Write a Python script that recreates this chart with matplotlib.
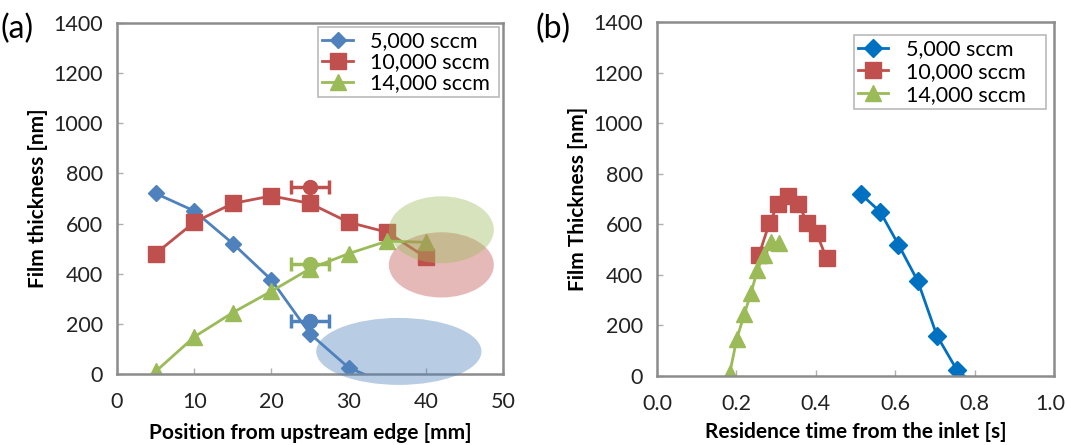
import numpy as np
import matplotlib
matplotlib.use("Agg")
import matplotlib.pyplot as plt
from matplotlib.patches import Ellipse
from matplotlib.transforms import ScaledTranslation

plt.rcParams["font.family"] = ["Lato", "DejaVu Sans"]

# (a) thickness vs position
pos = [5, 10, 15, 20, 25, 30, 35, 40]
th_5000 = [720, 650, 520, 375, 160, 25, -40]
th_10000 = [480, 605, 680, 710, 680, 605, 565, 465]
th_14000 = [10, 148, 245, 330, 420, 480, 530, 525]

# measured points with error bars (position 25 mm)
meas_x = [25, 25, 25]
meas_y = [210, 745, 440]
meas_xerr = [2.5, 2.5, 2.5]

# highlighted regions: centre x, centre y, width, height
ell_cx = [36.5, 42.0, 42.0]
ell_cy = [90, 435, 575]
ell_w = [21.4, 13.6, 13.6]
ell_h = [267, 260, 267]

# (b) thickness vs residence time
t_5000 = [0.513, 0.562, 0.608, 0.657, 0.705, 0.755, 0.804]
t_10000 = [0.257, 0.283, 0.305, 0.330, 0.356, 0.379, 0.402, 0.427]
t_14000 = [0.183, 0.201, 0.220, 0.237, 0.253, 0.269, 0.288, 0.306]

labels = ["5,000 sccm", "10,000 sccm", "14,000 sccm"]
blue_a = "#4F81BD"
blue_b = "#0070C0"
red = "#C0504D"
green = "#9BBB59"
spine_col = "#8c8c8c"

fig = plt.figure(figsize=(10.67, 4.45), dpi=100)
ax1 = fig.add_axes([0.1097, 0.1596, 0.3618, 0.789])
ax2 = fig.add_axes([0.6158, 0.155, 0.372, 0.7955])


def style(ax):
    for s in ax.spines.values():
        s.set_color(spine_col)
        s.set_linewidth(1.8)
    ax.tick_params(direction="in", length=4, color="#b0b0b0", width=1,
                   labelsize=15.5, labelcolor="#222222")
    ax.tick_params(axis="x", pad=13)
    ax.tick_params(axis="y", pad=10)
    ax.set_ylim(0, 1400)
    ax.set_yticks(range(0, 1401, 200))


def legend(ax, x0, top, w, spacing):
    leg = ax.legend(loc="upper left", bbox_to_anchor=(x0, top - 0.5, w, 0.5),
                    mode="expand", fontsize=15.5, fancybox=False,
                    edgecolor="#a8a8a8", handlelength=1.4, handletextpad=0.8,
                    borderpad=0.2, labelspacing=spacing, borderaxespad=0)
    leg.get_frame().set_linewidth(1.2)
    leg.set_zorder(10)
    return leg


# panel (a)
ax1.plot(pos[:len(th_5000)], th_5000, color=blue_a, marker="D", ms=8, lw=2, label=labels[0])
ax1.plot(pos, th_10000, color=red, marker="s", ms=11, lw=2, label=labels[1])
ax1.plot(pos, th_14000, color=green, marker="^", ms=11, lw=2, label=labels[2])
for x, y, e, c in zip(meas_x, meas_y, meas_xerr, [blue_a, red, green]):
    ax1.errorbar(x, y, xerr=e, fmt="o", color=c, ms=10, lw=2.5, capsize=5, capthick=2.5)
for cx, cy, w, h, c in zip(ell_cx, ell_cy, ell_w, ell_h, [blue_a, red, green]):
    ax1.add_patch(Ellipse((cx, cy), w, h, facecolor=c, edgecolor="none",
                          alpha=0.4, clip_on=False, zorder=5))
ax1.set_xlim(0, 50)
ax1.set_xticks(range(0, 51, 10))
style(ax1)
ax1.set_xlabel("Position from upstream edge [mm]", fontsize=15, fontweight="bold", labelpad=8)
ax1.set_ylabel("Film thickness [nm]", fontsize=15, fontweight="bold", labelpad=4)
legend(ax1, 0.521, 0.989, 0.469, 0.05)

# panel (b)
ax2.plot(t_5000, th_5000, color=blue_b, marker="D", ms=9, lw=2, label=labels[0])
ax2.plot(t_10000, th_10000, color=red, marker="s", ms=11, lw=2, label=labels[1])
ax2.plot(t_14000, th_14000, color=green, marker="^", ms=11, lw=2, label=labels[2])
ax2.set_xlim(0, 1.0)
ax2.set_xticks(np.arange(0, 1.01, 0.2))
ax2.set_xticklabels(["0.0", "0.2", "0.4", "0.6", "0.8", "1.0"])
style(ax2)
ax2.set_xlabel("Residence time from the inlet [s]", fontsize=15, fontweight="bold", labelpad=6)
ax2.set_ylabel("Film Thickness [nm]", fontsize=15, fontweight="bold", labelpad=4)
legend(ax2, 0.496, 0.963, 0.484, 0.12)

# keep the last tick label inside the figure
last = ax2.get_xticklabels()[-1]
last.set_transform(last.get_transform() + ScaledTranslation(-0.04, 0, fig.dpi_scale_trans))

fig.text(0.0, 0.915, "(a)", fontsize=23)
fig.text(0.502, 0.915, "(b)", fontsize=23)

fig.savefig("out.png", dpi=100)
